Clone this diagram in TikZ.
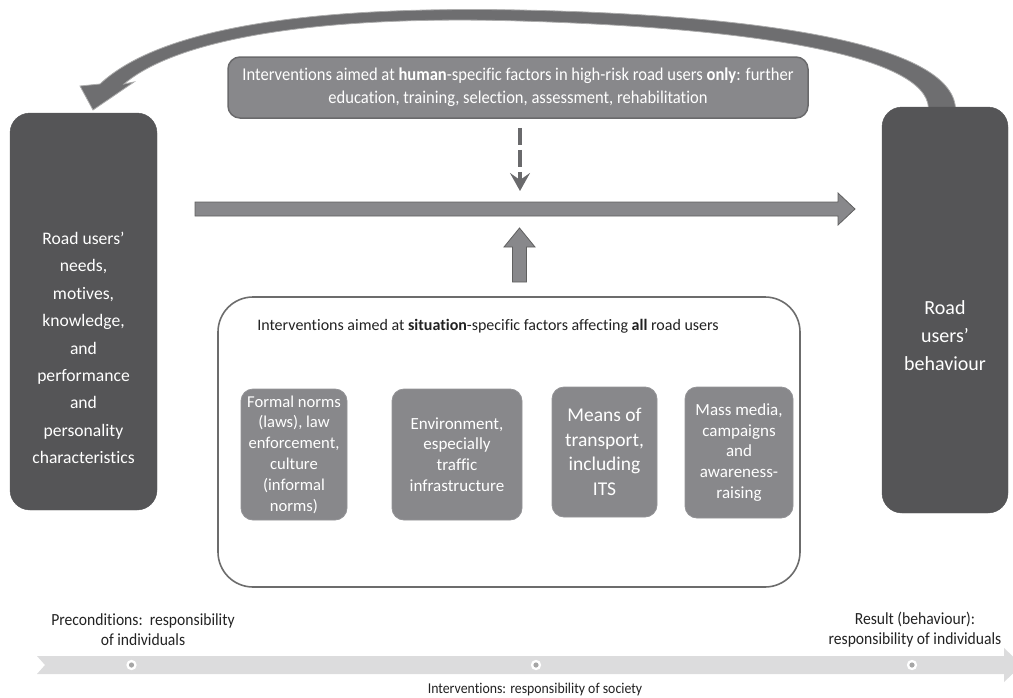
\documentclass[tikz,border=0pt]{standalone}
\usepackage{fontspec}
\setmainfont{Carlito}[Ligatures=NoCommon]
\newfontfamily\condfont{Carlito}[FakeStretch=0.92,Ligatures=NoCommon]
\usetikzlibrary{arrows.meta}
\definecolor{darkfill}{HTML}{555557}
\definecolor{midfill}{HTML}{88888B}
\definecolor{midedge}{HTML}{6A6A6C}
\definecolor{curvefill}{HTML}{6E6E70}
\definecolor{bandgray}{HTML}{DCDCDD}
\definecolor{textdark}{HTML}{222222}
\begin{document}
\begin{tikzpicture}[x=1pt,y=-1pt,
  darkbox/.style={fill=darkfill, draw=darkfill, rounded corners=20pt, inner sep=0pt},
  boxtext/.style={text=white, align=center, inner sep=0pt},
  midbox/.style={fill=midfill, draw=midfill!90!white, line width=0.8pt, rounded corners=12pt, text=white, align=center, inner sep=0pt, font=\fontsize{17}{20.8}\selectfont},
  topbox/.style={fill=midfill, draw=midedge, line width=1.5pt, rounded corners=12pt, text=white, align=center, inner sep=0pt},
  framebox/.style={draw=gray!85!black, line width=1.6pt, rounded corners=35pt, fill=white},
  blockarrow/.style={fill=midfill, draw=gray!75!black, line width=0.8pt},
  caption/.style={text=textdark, align=center, font=\condfont\fontsize{17}{20}\selectfont},
  dotring/.style={fill=white, draw=none},
  dotcore/.style={fill=gray!70, draw=none}
]
\useasboundingbox (0,0) rectangle (1013,697);

% curved feedback arrow (right box -> left box)
\fill[curvefill, draw=gray!65, line width=0.8pt]
  (955.5,108) .. controls (951,44) and (763,15) .. (520,10)
  .. controls (318,6) and (162,26) .. (100,84)
  -- (80,86) -- (93,110) -- (134,82) -- (124,84)
  .. controls (178,38) and (322,15) .. (520,21)
  .. controls (757,28) and (926,56) .. (928.5,108) -- cycle;

% main boxes
\node[darkbox, minimum width=147pt, minimum height=397pt] (lbox) at (83.5,311.5) {};
\node[boxtext, font=\fontsize{17.6}{27.4}\selectfont] (ltext) at (83.5,348)
  {Road users’\\needs,\\motives,\\knowledge,\\and\\performance\\and\\personality\\characteristics};
\node[darkbox, minimum width=126pt, minimum height=406pt] (rbox) at (945,310) {};
\node[boxtext, font=\fontsize{20}{28}\selectfont] (rtext) at (945,336)
  {Road\\users’\\behaviour};

% top box
\node[topbox, minimum width=580pt, minimum height=61pt,
      font=\condfont\fontsize{18}{23}\selectfont] (hbox) at (518,87.5)
  {Interventions aimed at \textbf{human}-specific factors in high-risk road users \textbf{only}: further\\education, training, selection, assessment, rehabilitation};

% horizontal block arrow
\coordinate (hs) at (195,209);
\coordinate (he) at (855,209);
\fill[blockarrow] (hs) ++(0,-7) -- ++(643,0) -- ++(0,-9) -- (he) -- ++(-17,16) -- ++(0,-9) -- ++(-643,0) -- cycle;

% dashed arrow down from top box
\coordinate (dtip) at (520,191);
\draw[midedge, line width=4.5pt, dash pattern=on 17pt off 5pt,
      -{Stealth[length=18pt,width=20pt,inset=7pt]}] (hbox.south -| dtip) ++(0,9) -- (dtip);

% situation frame
\node[framebox, minimum width=582pt, minimum height=290pt] (sbox) at (509,442) {};
\node[text=textdark, font=\fontsize{16}{19}\selectfont, anchor=base] (stitle) at (488,330)
  {Interventions aimed at \textbf{situation}-specific factors affecting \textbf{all} road users};

% up block arrow
\coordinate (utip) at (519.5,228);
\fill[blockarrow] (utip) -- ++(15.5,19) -- ++(-8.5,0) -- ++(0,35) -- ++(-14,0) -- ++(0,-35) -- ++(-8.5,0) -- cycle;

% inner boxes
\node[midbox, minimum width=106pt, minimum height=131pt,
      font=\fontsize{16.6}{20.8}\selectfont] (b1) at (294,454.5)
  {Formal norms\\(laws), law\\enforcement,\\culture\\(informal\\norms)};
\node[midbox, minimum width=130pt, minimum height=131pt] (b2) at (457,454.5)
  {Environment,\\especially\\traffic\\infrastructure};
\node[midbox, minimum width=105pt, minimum height=130pt,
      font=\fontsize{19.5}{24.5}\selectfont] (b3) at (604.5,452)
  {Means of\\transport,\\including\\ITS};
\node[midbox, minimum width=108pt, minimum height=131pt] (b4) at (739,452.5)
  {Mass media,\\campaigns\\and\\awareness-\\raising};

% timeline band
\begin{scope}
\clip (0,0) rectangle (1013,697);
\fill[bandgray] (37,656) -- (1004,656) -- (1004,648) -- (1022,665) -- (1004,682) -- (1004,674) -- (37,674) -- (45,665) -- cycle;
\end{scope}
\foreach \n/\x in {d1/131.5, d2/536, d3/912}{
  \fill[dotring] (\x,665) circle (5.2pt);
  \fill[dotcore] (\x,665) circle (2.6pt);
}

% captions
\node[caption] (cpre) at (143,630) {Preconditions:\ \ responsibility\\of individuals};
\node[caption] (cres) at (915,630) {Result (behaviour):\\responsibility of individuals};
\node[caption, font=\condfont\fontsize{15}{18}\selectfont] (csoc) at (535,689) {Interventions: responsibility of society};
\end{tikzpicture}
\end{document}
